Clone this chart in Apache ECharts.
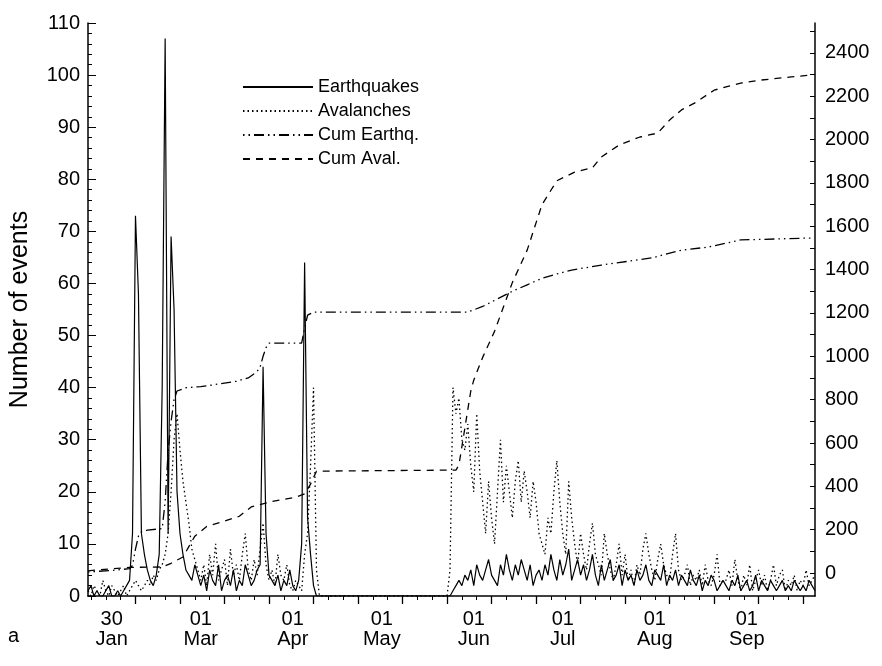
<!DOCTYPE html>
<html><head><meta charset="utf-8">
<script src="https://cdn.jsdelivr.net/npm/echarts@6/dist/echarts.min.js"></script>
<style>html,body{margin:0;padding:0;background:#fff}#c{width:882px;height:666px}</style>
</head><body><div id="c"></div>
<script>
// day-of-year of the first daily value
const firstDay = 22;
const monthLabelDays = [30, 60, 91, 121, 152, 182, 213, 244];
const monthLabels = ['30\nJan', '01\nMar', '01\nApr', '01\nMay', '01\nJun', '01\nJul', '01\nAug', '01\nSep'];
const majorTickDays = [38, 53, 68, 83, 98, 113, 128, 143, 158, 173, 188, 203, 218, 233, 248, 263];
const minorTickDays = [23, 28, 33, 38, 43, 48, 53, 58, 63, 68, 73, 78, 83, 88, 93, 98, 103, 108, 113, 118, 123, 128, 133, 138, 143, 148, 153, 158, 163, 168, 173, 178, 183, 188, 193, 198, 203, 208, 213, 218, 223, 228, 233, 238, 243, 248, 253, 258, 263];
const rightLabelValues = [0, 200, 400, 600, 800, 1000, 1200, 1400, 1600, 1800, 2000, 2200, 2400];
const rightTickValues = [0, 100, 200, 300, 400, 500, 600, 700, 800, 900, 1000, 1100, 1200, 1300, 1400, 1500, 1600, 1700, 1800, 1900, 2000, 2100, 2200, 2300, 2400, 2500];

// daily earthquakes (day 22 .. 267)
const earthquakes = [
  1,2,0,1,0,0,1,2,0,0,1,0,1,2,
  3,12,73,58,12,8,5,3,2,4,8,40,
  107,12,69,55,20,12,8,5,4,3,6,4,
  2,4,1,5,3,2,6,1,3,4,2,5,1,3,2,6,4,2,3,5,6,
  44,12,4,
  3,2,4,1,3,2,5,2,1,3,10,
  64,15,8,2,0,
  0,0,0,0,0,0,0,0,0,0,0,0,0,0,0,0,0,0,0,0,0,0,0,0,0,0,0,0,0,0,0,0,0,0,0,0,0,0,0,0,0,0,0,0,
  0,1,2,3,2,4,3,5,2,6,4,3,5,7,4,3,2,6,4,8,5,3,6,4,7,5,3,6,2,4,5,
  3,6,4,8,5,3,7,4,6,9,3,5,7,4,6,3,5,8,4,2,6,3,5,7,3,4,6,2,5,3,4,
  2,5,3,4,6,3,2,5,4,3,6,2,4,3,5,2,4,3,2,5,3,2,4,1,3,2,4,3,1,2,3,
  2,1,3,2,4,1,2,3,1,2,4,1,3,2,1,3,2,1,2,3,1,2,1,3,2,1,2,1,3,2,1
];
// daily avalanches (day 22 .. 267)
const avalanches = [
  1,0,2,1,0,3,1,0,2,1,0,1,2,0,
  1,2,3,2,1,2,3,2,4,3,5,6,
  8,12,20,30,35,28,22,18,14,9,7,5,
  3,6,2,8,4,10,3,5,7,2,9,4,6,3,8,12,5,3,7,4,9,14,6,3,5,2,8,4,3,6,2,1,3,2,1,
  8,12,25,40,5,
  0,0,0,0,0,0,0,0,0,0,0,0,0,0,0,0,0,0,0,0,0,0,0,0,0,0,0,0,0,0,0,0,0,0,0,0,0,0,0,0,0,0,0,0,
  5,40,35,38,30,28,33,25,20,35,24,18,12,22,15,10,20,30,18,25,20,15,22,26,18,24,20,15,22,18,12,
  10,8,15,12,20,26,18,12,8,22,15,10,6,12,8,5,10,14,8,6,4,12,8,5,3,6,10,4,8,3,5,
  2,6,4,9,12,8,5,3,7,10,6,4,3,8,12,5,3,4,6,2,4,3,5,2,6,3,2,4,8,2,3,
  3,5,2,7,3,1,4,2,6,1,3,5,2,4,1,3,6,2,4,5,1,3,2,4,1,3,2,5,2,3,4
];
// cumulative curves (right axis), read at selected days
const cumEarthqDays = [22, 30, 36, 37, 38, 39, 40, 42, 47, 48, 49, 50, 51, 52, 55, 60, 65, 72, 76, 79, 80, 81, 82, 83, 94, 95, 96, 98, 150, 155, 160, 165, 170, 175, 180, 185, 195, 212, 222, 231, 242, 250, 266];
const cumEarthq =     [5, 12, 20, 35, 110, 170, 190, 198, 205, 330, 560, 700, 800, 840, 855, 860, 870, 885, 900, 930, 950, 1000, 1040, 1061, 1061, 1130, 1190, 1204, 1204, 1230, 1265, 1300, 1330, 1360, 1380, 1398, 1421, 1454, 1490, 1504, 1537, 1540, 1546];
const cumAvalDays = [22, 30, 36, 47, 50, 54, 58, 62, 67, 73, 77, 84, 92, 95, 97, 99, 146, 147, 151, 152, 155, 159, 165, 170, 175, 180, 186, 192, 195, 201, 208, 214, 218, 222, 227, 231, 233, 237, 242, 249, 259, 266];
const cumAval =     [10, 20, 26, 28, 45, 74, 170, 215, 235, 262, 305, 330, 350, 365, 410, 470, 475, 498, 840, 890, 995, 1115, 1340, 1490, 1700, 1810, 1850, 1870, 1920, 1975, 2012, 2030, 2090, 2137, 2173, 2210, 2228, 2243, 2261, 2275, 2289, 2298];

const FONT = "'Liberation Sans','DejaVu Sans',sans-serif";
const days = earthquakes.map((_, i) => firstDay + i);
const zip = (xs, ys) => xs.map((x, i) => [x, ys[i]]);

const chart = echarts.init(document.getElementById('c'), null, {renderer: 'canvas'});
const black = '#000';
const txt = {color: black, fontFamily: FONT, fontSize: 20};
chart.setOption({
  animation: false,
  backgroundColor: '#fff',
  grid: {left: 85, right: 67, top: 23, bottom: 70, containLabel: false},
  legend: {
    orient: 'vertical', left: 237, top: 73, itemWidth: 70, itemHeight: 12, itemGap: 6,
    itemStyle: {opacity: 0},
    textStyle: {color: black, fontFamily: FONT, fontSize: 18},
    data: ['Earthquakes', 'Avalanches', 'Cum Earthq.', 'Cum Aval.']
  },
  xAxis: [{
    type: 'value', min: 22, max: 267,
    axisLine: {onZero: false, lineStyle: {color: black, width: 1.5}},
    axisTick: {customValues: majorTickDays, length: 8, lineStyle: {color: black, width: 1.3}},
    axisLabel: Object.assign({customValues: monthLabelDays, margin: 13, lineHeight: 20,
      formatter: v => monthLabels[monthLabelDays.indexOf(v)]}, txt),
    splitLine: {show: false}
  }, {
    type: 'value', min: 22, max: 267, position: 'bottom',
    axisLine: {show: false, onZero: false},
    axisTick: {customValues: minorTickDays, length: 4, lineStyle: {color: black, width: 1}},
    axisLabel: {show: false}, splitLine: {show: false}
  }],
  yAxis: [{
    type: 'value', min: 0, max: 110, interval: 10, position: 'left',
    name: 'Number of events', nameLocation: 'middle', nameRotate: 90, nameGap: 55,
    nameTextStyle: Object.assign({}, txt, {fontSize: 25}),
    axisLine: {show: true, onZero: false, lineStyle: {color: black, width: 1.5}},
    axisTick: {show: true, inside: true, length: 8, lineStyle: {color: black}},
    minorTick: {show: true, splitNumber: 5, length: 4, lineStyle: {color: black}},
    axisLabel: Object.assign({margin: 8}, txt),
    splitLine: {show: false}
  }, {
    type: 'value', min: -106, max: 2538, position: 'right',
    axisLine: {show: true, onZero: false, lineStyle: {color: black, width: 1.5}},
    axisTick: {show: true, inside: true, length: 5, customValues: rightTickValues, lineStyle: {color: black}},
    axisLabel: Object.assign({margin: 10, customValues: rightLabelValues, formatter: v => String(v)}, txt),
    splitLine: {show: false}
  }],
  series: [{
    name: 'Earthquakes', type: 'line', symbol: 'none', data: zip(days, earthquakes),
    lineStyle: {color: black, width: 1.2}, itemStyle: {color: black}
  }, {
    name: 'Avalanches', type: 'line', symbol: 'none', data: zip(days, avalanches),
    lineStyle: {color: black, width: 1.3, type: [1.5, 3]}, itemStyle: {color: black}
  }, {
    name: 'Cum Earthq.', type: 'line', symbol: 'none', yAxisIndex: 1, data: zip(cumEarthqDays, cumEarthq),
    lineStyle: {color: black, width: 1.3, type: [1.5, 4, 1.5, 4, 10, 4]}, itemStyle: {color: black}
  }, {
    name: 'Cum Aval.', type: 'line', symbol: 'none', yAxisIndex: 1, data: zip(cumAvalDays, cumAval),
    lineStyle: {color: black, width: 1.3, type: [7, 6]}, itemStyle: {color: black}
  }],
  graphic: [{type: 'text', left: 8, top: 626, style: {text: 'a', fill: black, font: '20px ' + FONT}}]
});
</script></body></html>
